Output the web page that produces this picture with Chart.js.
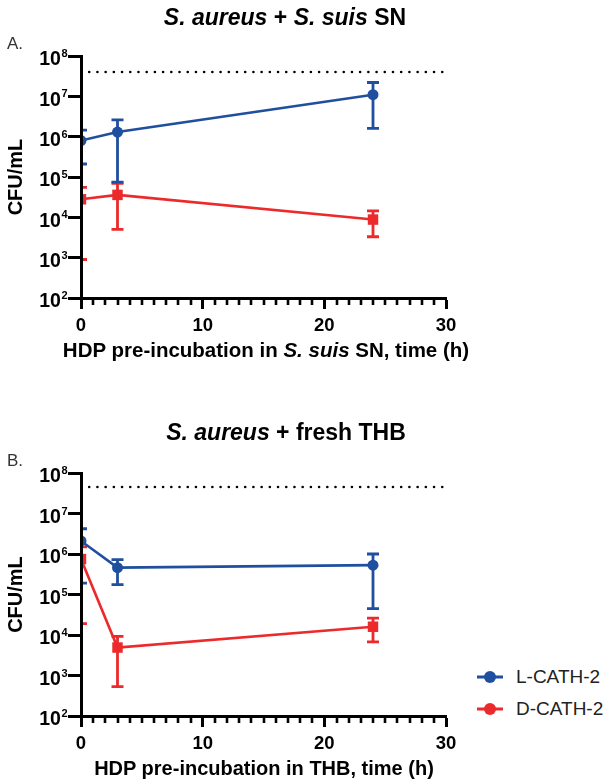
<!DOCTYPE html>
<html>
<head>
<meta charset="utf-8">
<script src="https://cdn.jsdelivr.net/npm/chart.js@4.4.1/dist/chart.umd.min.js"></script>
<style>
  html, body { margin: 0; padding: 0; background: #fff; }
  body { width: 608px; height: 782px; position: relative; overflow: hidden;
         font-family: "Liberation Sans", Arial, Helvetica, sans-serif; }
  .abs { position: absolute; white-space: nowrap; }
  .title { font-weight: bold; font-size: 23px; color: #000; transform: translate(-50%, -50%); }
  .xtitle { font-weight: bold; font-size: 20px; color: #000; transform: translate(-50%, -50%); }
  .panel { font-size: 17px; color: #333; transform: translateY(-50%); }
  .legtext { font-size: 19px; color: #222; transform: translateY(-50%); }
  .legline { position: absolute; height: 3px; width: 26px; transform: translateY(-50%); }
  .legdot { position: absolute; width: 12px; height: 12px; border-radius: 50%; transform: translate(-50%, -50%); }
  canvas { position: absolute; left: 0; }
</style>
</head>
<body>
<canvas id="chartA" width="470" height="370" style="top:0"></canvas>
<canvas id="chartB" width="470" height="412" style="top:370px"></canvas>

<div class="abs title" style="left:285px; top:17px"><i>S. aureus</i> + <i>S. suis</i> SN</div>
<div class="abs panel" style="left:7px; top:44px">A.</div>
<div class="abs xtitle" style="left:266px; top:350px; font-size:20.5px">HDP pre-incubation in <i>S. suis</i> SN, time (h)</div>

<div class="abs title" style="left:286px; top:432px"><i>S. aureus</i> + fresh THB</div>
<div class="abs panel" style="left:7px; top:461px">B.</div>
<div class="abs xtitle" style="left:264px; top:768px">HDP pre-incubation in THB, time (h)</div>

<div id="legend"></div>

<script>
// Sampling times (h)
const timesH = [0, 3, 24];

// Series names and colours
const seriesNames = ['L-CATH-2', 'D-CATH-2'];
const seriesColors = ['#1f4f9e', '#ec2a2c'];

// A: S. aureus + S. suis SN (CFU/mL, mean with error range)
const snL     = [8.0e5, 1.3e6, 1.1e7];
const snLLow  = [2.1e5, 7.5e4, 1.6e6];
const snLHigh = [1.45e6, 2.6e6, 2.2e7];
const snD     = [2.8e4, 3.6e4, 8.8e3];
const snDLow  = [9.0e2, 5.0e3, 3.3e3];
const snDHigh = [5.5e4, 7.0e4, 1.45e4];

// B: S. aureus + fresh THB (CFU/mL)
const thbL     = [2.1e6, 4.6e5, 5.3e5];
const thbLLow  = [1.9e5, 1.75e5, 4.5e4];
const thbLHigh = [4.2e6, 7.3e5, 1.0e6];
const thbD     = [7.5e5, 4.9e3, 1.6e4];
const thbDLow  = [1.9e4, 5.3e2, 6.8e3];
const thbDHigh = [1.5e6, 9.2e3, 2.6e4];

// Dotted reference level (CFU/mL)
const refLevelA = 4.0e7;
const refLevelB = 4.5e7;

// Axis ticks
const xTicks = [0, 10, 20, 30];
const yTicks = [1e2, 1e3, 1e4, 1e5, 1e6, 1e7, 1e8];

const FONT = '"Liberation Sans", Arial, Helvetica, sans-serif';

// Vertical error bars with caps, clipped to the plot area
const errorBarPlugin = {
  id: 'errorBars',
  afterDatasetDraw(chart, args) {
    const ds = chart.data.datasets[args.index];
    if (!ds.errLow) return;
    const { ctx, chartArea: a, scales: { x, y } } = chart;
    ctx.save();
    ctx.beginPath();
    ctx.rect(a.left, a.top, a.right - a.left, a.bottom - a.top);
    ctx.clip();
    ctx.strokeStyle = ds.borderColor;
    ctx.lineWidth = 2.8;
    ds.data.forEach((p, i) => {
      const px = x.getPixelForValue(p.x);
      const lo = y.getPixelForValue(ds.errLow[i]);
      const hi = y.getPixelForValue(ds.errHigh[i]);
      ctx.beginPath();
      ctx.moveTo(px, lo); ctx.lineTo(px, hi);
      ctx.moveTo(px - 6, lo); ctx.lineTo(px + 6, lo);
      ctx.moveTo(px - 6, hi); ctx.lineTo(px + 6, hi);
      ctx.stroke();
    });
    ctx.restore();
  }
};

// Minor ticks every hour on the time axis
const minorTickPlugin = {
  id: 'minorTicks',
  afterDraw(chart) {
    const { ctx, scales: { x }, chartArea: a } = chart;
    ctx.save();
    ctx.strokeStyle = '#000';
    ctx.lineWidth = 2.6;
    for (let v = x.min; v <= x.max; v++) {
      if (v % 10 === 0) continue;
      const px = Math.round(x.getPixelForValue(v));
      ctx.beginPath();
      ctx.moveTo(px, a.bottom);
      ctx.lineTo(px, a.bottom + 7);
      ctx.stroke();
    }
    ctx.restore();
  }
};

// Power-of-ten labels ("10" with a raised exponent) on the count axis
const powerLabelPlugin = {
  id: 'powerLabels',
  afterDraw(chart) {
    const { ctx, scales: { y } } = chart;
    const right = y.right - 13.5;
    ctx.save();
    ctx.fillStyle = '#000';
    y.ticks.forEach(t => {
      const py = y.getPixelForValue(t.value);
      const exp = String(Math.round(Math.log10(t.value)));
      ctx.font = 'bold 11px ' + FONT;
      const ew = ctx.measureText(exp).width;
      ctx.textAlign = 'left';
      ctx.textBaseline = 'alphabetic';
      ctx.fillText(exp, right - ew, py + 1);
      ctx.font = 'bold 19.5px ' + FONT;
      ctx.textAlign = 'right';
      ctx.fillText('10', right - ew - 0.5, py + 9.3);
    });
    ctx.restore();
  }
};

function pts(ys) { return timesH.map((t, i) => ({ x: t, y: ys[i] })); }

function makeChart(id, series, refLevel, topPad, xAxisHeight) {
  const datasets = series.map((s, k) => ({
    label: seriesNames[k],
    data: pts(s.mean),
    errLow: s.low,
    errHigh: s.high,
    borderColor: seriesColors[k],
    backgroundColor: seriesColors[k],
    borderWidth: 2.6,
    pointStyle: k === 0 ? 'circle' : 'rect',
    pointRadius: k === 0 ? 5.5 : 7.4,
    pointHoverRadius: k === 0 ? 5.5 : 7.4,
    pointBorderWidth: 0,
    tension: 0,
    clip: 0
  }));
  datasets.push({
    label: 'reference',
    data: [{ x: 0, y: refLevel }, { x: 30, y: refLevel }],
    borderColor: '#000',
    borderWidth: 2.6,
    borderDash: [0.01, 8.2],
    borderCapStyle: 'round',
    pointRadius: 0,
    clip: 0
  });

  return new Chart(document.getElementById(id), {
    type: 'line',
    data: { datasets },
    plugins: [errorBarPlugin, minorTickPlugin, powerLabelPlugin],
    options: {
      responsive: false,
      animation: false,
      events: [],
      layout: { padding: { left: 0, right: 24, top: topPad, bottom: 0 } },
      plugins: { legend: { display: false }, tooltip: { enabled: false } },
      scales: {
        x: {
          type: 'linear',
          min: 0, max: 30,
          afterBuildTicks: (s) => { s.ticks = xTicks.map(v => ({ value: v })); },
          afterFit: (s) => { s.height = xAxisHeight; },
          border: { display: true, color: '#000', width: 3, z: 1 },
          grid: { drawOnChartArea: false, drawTicks: true, tickLength: 11, tickWidth: 3, tickColor: '#000' },
          ticks: { color: '#000', padding: 6, maxRotation: 0,
                   font: { family: FONT, size: 18.5, weight: 'bold' } }
        },
        y: {
          type: 'logarithmic',
          min: 1e2, max: 1e8,
          afterBuildTicks: (s) => { s.ticks = yTicks.map(v => ({ value: v })); },
          afterFit: (s) => { s.width = 81; },
          border: { display: true, color: '#000', width: 3, z: 1 },
          grid: { drawOnChartArea: false, drawTicks: true, tickLength: 13, tickWidth: 3, tickColor: '#000' },
          ticks: { callback: () => '' },
          title: {
            display: true, text: 'CFU/mL', color: '#000',
            padding: { top: 4, bottom: 0 },
            font: { family: FONT, size: 20, weight: 'bold' }
          }
        }
      }
    }
  });
}

makeChart('chartA', [
  { mean: snL, low: snLLow, high: snLHigh },
  { mean: snD, low: snDLow, high: snDHigh }
], refLevelA, 56, 72);

makeChart('chartB', [
  { mean: thbL, low: thbLLow, high: thbLHigh },
  { mean: thbD, low: thbDLow, high: thbDHigh }
], refLevelB, 103, 66);

// Legend
const legend = document.getElementById('legend');
const legendRows = [677, 709];
seriesNames.forEach((name, k) => {
  const y = legendRows[k];
  legend.insertAdjacentHTML('beforeend',
    `<div class="legline" style="left:477px; top:${y}px; background:${seriesColors[k]}"></div>` +
    `<div class="legdot" style="left:490px; top:${y}px; background:${seriesColors[k]}"></div>` +
    `<div class="abs legtext" style="left:516px; top:${y}px">${name}</div>`);
});
</script>
</body>
</html>
